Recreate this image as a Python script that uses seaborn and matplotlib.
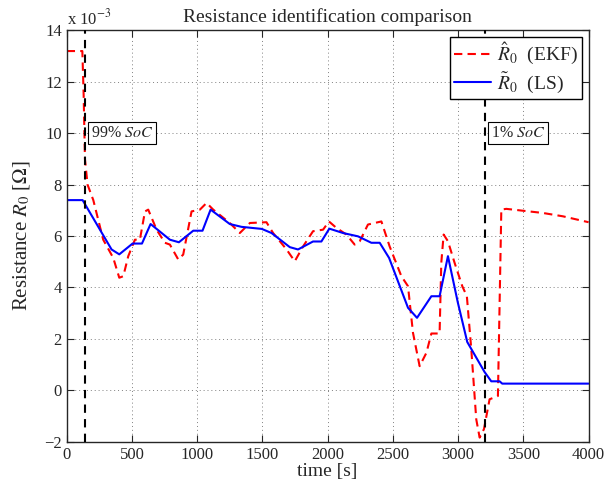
import numpy as np
import pandas as pd
import seaborn as sns
import matplotlib.pyplot as plt

# EKF estimate (x 1e-3 Ohm)
t_ekf = [0, 120, 130, 140, 160, 204, 280, 357, 403, 434, 472, 523, 561, 600, 625, 689, 753,
         791, 855, 893, 957, 1021, 1072, 1123, 1250, 1327, 1404, 1531, 1582, 1685, 1748, 1812,
         1888, 1965, 2010, 2067, 2144, 2207, 2246, 2309, 2412, 2475, 2565, 2616, 2654, 2705,
         2757, 2795, 2858, 2871, 2889, 2922, 2973, 3032, 3067, 3101, 3139, 3165, 3198, 3241,
         3305, 3312, 3331, 3369, 3650, 3803, 4000]
r_ekf = [13.2, 13.2, 11.5, 9.0, 8.0, 7.4, 5.86, 5.15, 4.38, 4.44, 5.22, 5.86, 5.86, 6.96, 7.03,
         6.25, 5.74, 5.67, 5.09, 5.28, 6.96, 7.03, 7.29, 7.03, 6.51, 6.12, 6.51, 6.54, 6.12,
         5.48, 5.02, 5.6, 6.19, 6.25, 6.57, 6.32, 6.06, 5.67, 5.8, 6.45, 6.57, 5.6, 4.44, 4.05,
         2.24, 0.94, 1.46, 2.21, 2.21, 4.96, 6.06, 5.8, 4.96, 4.05, 3.66, 1.59, -1.13, -1.84,
         -1.51, -0.35, -0.22, 1.72, 7.03, 7.06, 6.9, 6.77, 6.54]

# LS estimate (x 1e-3 Ohm)
t_ls = [0, 122, 344, 403, 505, 577, 643, 791, 860, 970, 1041, 1103, 1250, 1340, 1495, 1570,
        1710, 1773, 1888, 1952, 2013, 2118, 2233, 2335, 2399, 2471, 2616, 2685, 2795, 2858,
        2922, 2998, 3070, 3203, 3254, 3318, 3338, 4000]
r_ls = [7.4, 7.4, 5.48, 5.29, 5.71, 5.71, 6.47, 5.86, 5.76, 6.21, 6.21, 7.03, 6.47, 6.36,
        6.28, 6.12, 5.57, 5.48, 5.79, 5.79, 6.29, 6.12, 5.99, 5.74, 5.74, 5.15, 3.21, 2.82,
        3.66, 3.66, 5.22, 3.41, 1.88, 0.71, 0.35, 0.35, 0.26, 0.26]

soc_times = [140, 3205]
soc_labels = ["99% $\\mathit{SoC}$", "1% $\\mathit{SoC}$"]

sns.set_style("ticks")
plt.rcParams["font.family"] = ["Liberation Serif", "DejaVu Serif"]
plt.rcParams["mathtext.fontset"] = "stix"
plt.rcParams["xtick.direction"] = "in"
plt.rcParams["ytick.direction"] = "in"

fig = plt.figure(figsize=(6.09, 4.91), dpi=100)
ax = fig.add_axes([0.1095, 0.1004, 0.857, 0.8375])

ekf = pd.DataFrame({"t": t_ekf, "r": r_ekf})
ls = pd.DataFrame({"t": t_ls, "r": r_ls})

sns.lineplot(data=ekf, x="t", y="r", ax=ax, color="red", linewidth=1.5,
             linestyle=(0, (4, 2.5)), label="$\\hat{R}_0$  (EKF)", estimator=None, sort=False)
sns.lineplot(data=ls, x="t", y="r", ax=ax, color="blue", linewidth=1.5,
             label="$\\tilde{R}_0$  (LS)", estimator=None, sort=False)

for ts in soc_times:
    ax.axvline(ts, color="black", linewidth=1.5, linestyle=(0, (4, 3)), zorder=3)
for ts, lab in zip(soc_times, soc_labels):
    ax.text(ts + 45, 10, lab, fontsize=11.5, va="center", ha="left",
            bbox=dict(boxstyle="square,pad=0.2", fc="white", ec="black", lw=0.8))

ax.set_xlim(0, 4000)
ax.set_ylim(-2, 14)
ax.set_xticks(np.arange(0, 4001, 500))
ax.set_yticks(np.arange(-2, 15, 2))
ax.grid(True, linestyle=(0, (1, 3)), color="gray", linewidth=0.7)
ax.tick_params(labelsize=12, top=True, right=True, length=5, width=0.8)
for s in ax.spines.values():
    s.set_linewidth(1.0)
    s.set_visible(True)

ax.set_xlabel("time [s]", fontsize=14, labelpad=0)
ax.set_ylabel("Resistance $R_0$ [$\\Omega$]", fontsize=15, labelpad=9)
ax.set_title("Resistance identification comparison", fontsize=14, pad=6)
ax.text(0.0, 1.005, "x 10$^{-3}$", transform=ax.transAxes, fontsize=12, va="bottom", ha="left")

leg = ax.legend(loc="upper right", fontsize=14, fancybox=False, edgecolor="black",
                framealpha=1, handlelength=1.9, handletextpad=0.3, borderpad=0.2,
                borderaxespad=0.35, labelspacing=0.15)
leg.get_frame().set_linewidth(1.0)

fig.savefig("out.png", dpi=100)
